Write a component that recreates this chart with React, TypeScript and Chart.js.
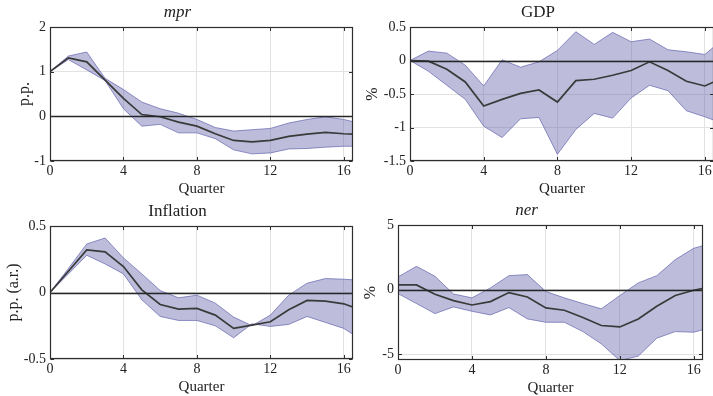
import React, { useEffect, useRef } from 'react';
import { Chart, registerables } from 'chart.js';

Chart.register(...registerables);

// ---------- data ----------
const quarters = [0, 1, 2, 3, 4, 5, 6, 7, 8, 9, 10, 11, 12, 13, 14, 15, 16, 17];
const xTickStep = 4;
const xMax = 16.5;

const mprMedian = [1.0, 1.31, 1.22, 0.81, 0.40, 0.04, -0.01, -0.13, -0.22, -0.39, -0.54, -0.57, -0.54, -0.45, -0.40, -0.36, -0.39, -0.41];
const mprUpper = [1.0, 1.35, 1.44, 0.85, 0.60, 0.32, 0.17, 0.07, -0.07, -0.25, -0.33, -0.30, -0.27, -0.15, -0.07, -0.01, -0.07, -0.17];
const mprLower = [1.0, 1.27, 1.04, 0.80, 0.17, -0.22, -0.18, -0.37, -0.37, -0.50, -0.75, -0.84, -0.82, -0.73, -0.72, -0.69, -0.67, -0.67];

const gdpMedian = [0, -0.01, -0.13, -0.32, -0.68, -0.58, -0.49, -0.44, -0.62, -0.30, -0.28, -0.22, -0.15, -0.02, -0.15, -0.31, -0.38, -0.26];
const gdpUpper = [0, 0.14, 0.11, -0.07, -0.38, 0.01, -0.10, -0.02, 0.15, 0.43, 0.24, 0.42, 0.28, 0.32, 0.16, 0.13, 0.09, 0.32];
const gdpLower = [0, -0.16, -0.37, -0.58, -0.98, -1.15, -0.87, -0.85, -1.40, -1.03, -0.79, -0.86, -0.56, -0.37, -0.45, -0.75, -0.84, -0.94];

const inflMedian = [0, 0.16, 0.32, 0.305, 0.195, 0.02, -0.09, -0.125, -0.12, -0.17, -0.27, -0.245, -0.22, -0.13, -0.06, -0.065, -0.085, -0.135];
const inflUpper = [0, 0.18, 0.365, 0.41, 0.26, 0.14, 0.015, -0.04, -0.02, -0.08, -0.185, -0.25, -0.17, -0.02, 0.07, 0.105, 0.10, 0.09];
const inflLower = [0, 0.14, 0.28, 0.215, 0.14, -0.055, -0.18, -0.21, -0.21, -0.25, -0.34, -0.235, -0.255, -0.24, -0.18, -0.225, -0.27, -0.36];

const nerMedian = [0.36, 0.36, -0.36, -0.85, -1.19, -0.93, -0.23, -0.57, -1.42, -1.60, -2.16, -2.78, -2.89, -2.27, -1.29, -0.46, -0.05, 0.25];
const nerUpper = [0.98, 1.80, 1.03, -0.34, -0.64, 0.13, 1.08, 1.16, -0.15, -0.64, -1.08, -1.49, -0.46, 0.52, 1.08, 2.32, 3.20, 3.60];
const nerLower = [-0.31, -1.08, -1.86, -1.34, -1.68, -1.96, -1.39, -2.27, -2.53, -2.53, -3.25, -4.20, -5.50, -5.15, -3.76, -3.25, -3.30, -2.90];

// ---------- styles ----------
const FONT = "'Liberation Serif', 'Times New Roman', serif";
const TEXT = '#222222';
const FILL = 'rgba(98, 98, 170, 0.42)';
const EDGE = 'rgba(90, 90, 170, 0.65)';
const MEDIAN = '#3a3a3a';
const GRID = '#e2e2e2';
const FRAME = '#2e2e2e';

const Y_AXIS_W = 48;
const X_AXIS_H = 40;
const PAD_RIGHT = 12;

type PanelDef = {
  title: string;
  italic: boolean;
  yLabel: string;
  yMin: number;
  yMax: number;
  yStep: number;
  median: number[];
  upper: number[];
  lower: number[];
  plot: { l: number; t: number; r: number; b: number };
  yTitleCenter: number; // distance of y-label center left of plot
};

const panels: PanelDef[] = [
  { title: 'mpr', italic: true, yLabel: 'p.p.', yMin: -1, yMax: 2, yStep: 1,
    median: mprMedian, upper: mprUpper, lower: mprLower,
    plot: { l: 50, t: 27, r: 353, b: 161 }, yTitleCenter: 25 },
  { title: 'GDP', italic: false, yLabel: '%', yMin: -1.5, yMax: 0.5, yStep: 0.5,
    median: gdpMedian, upper: gdpUpper, lower: gdpLower,
    plot: { l: 410, t: 27, r: 714, b: 161 }, yTitleCenter: 37 },
  { title: 'Inflation', italic: false, yLabel: 'p.p. (a.r.)', yMin: -0.5, yMax: 0.5, yStep: 0.5,
    median: inflMedian, upper: inflUpper, lower: inflLower,
    plot: { l: 50, t: 226, r: 353, b: 359 }, yTitleCenter: 36 },
  { title: 'ner', italic: true, yLabel: '%', yMin: -5.45, yMax: 5, yStep: 5,
    median: nerMedian, upper: nerUpper, lower: nerLower,
    plot: { l: 398, t: 225, r: 703, b: 360 }, yTitleCenter: 27 },
];

const fmtTick = (v: number | string) => String(Math.round(Number(v) * 100) / 100);

const framePlugin = {
  id: 'frame',
  afterDatasetsDraw(chart: any) {
    const { ctx, chartArea: a, scales } = chart;
    const xs = scales.x;
    const ys = scales.y;
    ctx.save();
    // zero reference line
    const y0 = Math.round(ys.getPixelForValue(0)) + 0.5;
    ctx.strokeStyle = '#262626';
    ctx.lineWidth = 1.3;
    ctx.beginPath();
    ctx.moveTo(a.left, y0);
    ctx.lineTo(a.right, y0);
    ctx.stroke();
    // box
    ctx.strokeStyle = FRAME;
    ctx.lineWidth = 1.2;
    const L = Math.round(a.left) + 0.5;
    const R = Math.round(a.right) - 0.5;
    const T = Math.round(a.top) + 0.5;
    const B = Math.round(a.bottom) - 0.5;
    ctx.strokeRect(L, T, R - L, B - T);
    // inward ticks
    const tl = 3.5;
    ctx.lineWidth = 1;
    ctx.beginPath();
    xs.ticks.forEach((t: any) => {
      const px = Math.round(xs.getPixelForValue(t.value)) + 0.5;
      ctx.moveTo(px, B); ctx.lineTo(px, B - tl);
      ctx.moveTo(px, T); ctx.lineTo(px, T + tl);
    });
    ys.ticks.forEach((t: any) => {
      const py = Math.round(ys.getPixelForValue(t.value)) + 0.5;
      ctx.moveTo(L, py); ctx.lineTo(L + tl, py);
      ctx.moveTo(R, py); ctx.lineTo(R - tl, py);
    });
    ctx.stroke();
    ctx.restore();
  },
};

const toXY = (arr: number[]) => quarters.map((q, i) => ({ x: q, y: arr[i] }));

function Panel({ def }: { def: PanelDef }) {
  const ref = useRef<HTMLCanvasElement>(null);
  const left = def.plot.l - Y_AXIS_W;
  const top = def.plot.t - 27;
  const width = def.plot.r + PAD_RIGHT - left;
  const height = def.plot.b + X_AXIS_H - top;

  useEffect(() => {
    if (!ref.current) return;
    const chart = new Chart(ref.current, {
      type: 'line',
      data: {
        datasets: [
          { data: toXY(def.lower), borderColor: EDGE, borderWidth: 1, pointRadius: 0, fill: false, tension: 0, order: 1, clip: 0 } as any,
          { data: toXY(def.upper), borderColor: EDGE, borderWidth: 1, pointRadius: 0, fill: '-1', backgroundColor: FILL, tension: 0, order: 1, clip: 0 } as any,
          { data: toXY(def.median), borderColor: MEDIAN, borderWidth: 1.7, pointRadius: 0, fill: false, tension: 0, order: 0, clip: 0 } as any,
        ],
      },
      options: {
        animation: false,
        responsive: false,
        maintainAspectRatio: false,
        events: [],
        layout: { padding: { left: 0, right: PAD_RIGHT, top: 0, bottom: 0 } },
        plugins: {
          legend: { display: false },
          tooltip: { enabled: false },
          title: {
            display: true,
            text: def.title,
            color: TEXT,
            font: { family: FONT, size: 17, style: def.italic ? 'italic' : 'normal', weight: 'normal' },
            padding: { top: 2.8, bottom: 3.8 },
          },
        },
        scales: {
          x: {
            type: 'linear',
            min: 0,
            max: xMax,
            afterFit: (s: any) => { s.height = X_AXIS_H; },
            ticks: { stepSize: xTickStep, includeBounds: false, padding: 2, color: TEXT, font: { family: FONT, size: 14 }, maxRotation: 0, callback: fmtTick },
            grid: { color: GRID, drawTicks: false, lineWidth: 1 },
            border: { display: false },
            title: { display: true, text: 'Quarter', color: TEXT, font: { family: FONT, size: 15 }, padding: { top: 0, bottom: 3 } },
          },
          y: {
            type: 'linear',
            min: def.yMin,
            max: def.yMax,
            afterFit: (s: any) => { s.width = Y_AXIS_W; },
            ticks: { stepSize: def.yStep, includeBounds: false, padding: 4, color: TEXT, font: { family: FONT, size: 14 }, callback: fmtTick },
            grid: { color: GRID, drawTicks: false, lineWidth: 1 },
            border: { display: false },
            title: { display: true, text: def.yLabel, color: TEXT, font: { family: FONT, size: 16 }, padding: { top: Y_AXIS_W - def.yTitleCenter - 9.6, bottom: 0 } },
          },
        },
      } as any,
      plugins: [framePlugin],
    });
    return () => chart.destroy();
  }, [def]);

  return (
    <canvas
      ref={ref}
      width={width}
      height={height}
      style={{ position: 'absolute', left, top, width, height }}
    />
  );
}

export default function App() {
  return (
    <div style={{ position: 'fixed', left: 0, top: 0, width: 713, height: 396, overflow: 'hidden', background: '#ffffff' }}>
      {panels.map((p) => (
        <Panel key={p.title} def={p} />
      ))}
    </div>
  );
}
